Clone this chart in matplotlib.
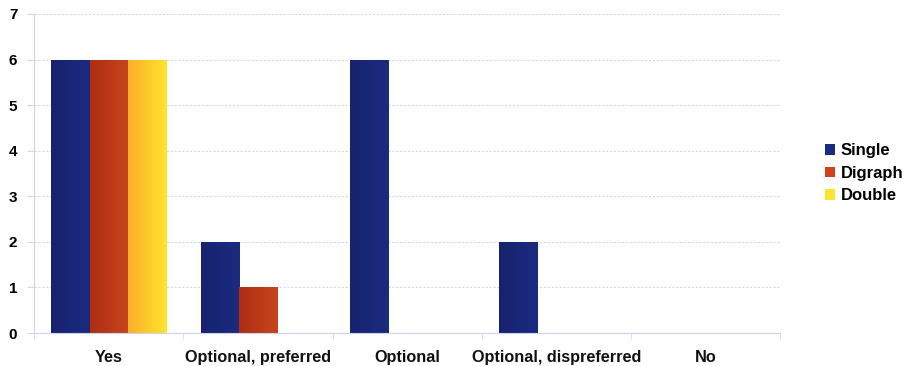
import numpy as np
import matplotlib
matplotlib.use("Agg")
import matplotlib.pyplot as plt
from matplotlib.colors import LinearSegmentedColormap
from matplotlib.patches import Patch

# data
categories = ["Yes", "Optional, preferred", "Optional", "Optional, dispreferred", "No"]
single = [6, 2, 6, 2, 0]
digraph = [6, 1, 0, 0, 0]
double = [6, 0, 0, 0, 0]

series = {"Single": single, "Digraph": digraph, "Double": double}
# left/right colour of each bar gradient
grad = {
    "Single": ("#17236f", "#1b2b80"),
    "Digraph": ("#ae2e14", "#c8441c"),
    "Double": ("#fbb02a", "#fee42c"),
}
legend_col = {"Single": "#1a2b80", "Digraph": "#d2401c", "Double": "#fde52f"}

plt.rcParams["font.family"] = ["Liberation Sans", "DejaVu Sans"]

fig = plt.figure(figsize=(9.08, 3.66), dpi=100)
ax = fig.add_axes([0.0374, 0.090, 0.822, 0.872])

width = 0.255
x = np.arange(len(categories))

# gridlines
for yv in range(0, 8):
    ax.axhline(yv, color="#d6d6f2", lw=0.8, ls=(0, (2, 1.5)), zorder=0)

for i, (name, vals) in enumerate(series.items()):
    cmap = LinearSegmentedColormap.from_list(name, grad[name])
    for xi, v in zip(x, vals):
        if v <= 0:
            continue
        left = xi + (i - 1) * width - width / 2
        bar = ax.bar(left, v, width, align="edge", color="none", zorder=2)[0]
        img = ax.imshow(np.linspace(0, 1, 64).reshape(1, -1), cmap=cmap,
                        extent=[left, left + width, 0, v], aspect="auto", zorder=2)
        img.set_clip_path(bar)

ax.set_aspect("auto")
ax.set_xlim(-0.5, len(categories) - 0.5)
ax.set_ylim(0, 7)

ax.set_yticks(range(0, 8))
ax.set_yticklabels([str(v) for v in range(0, 8)], fontweight="bold", fontsize=11)
ax.set_xticks(x)
ax.set_xticklabels(categories, fontweight="bold", fontsize=11.7, color="#111111")
ax.set_xticks(np.arange(-0.5, len(categories)), minor=True)
ax.tick_params(axis="x", which="major", length=0, pad=12)
ax.tick_params(axis="x", which="minor", length=4, color="#d6d6f2")
ax.tick_params(axis="y", length=5, color="#d6d6f2", pad=7)

for s in ["top", "right"]:
    ax.spines[s].set_visible(False)
for s in ["left", "bottom"]:
    ax.spines[s].set_color("#d0d0f0")
    ax.spines[s].set_linewidth(0.8)

handles = [Patch(facecolor=legend_col[n], edgecolor="none") for n in series]
ax.legend(handles, list(series), loc="center left", bbox_to_anchor=(1.06, 0.50),
          frameon=False, prop={"weight": "bold", "size": 12},
          handlelength=0.6, handleheight=0.6, handletextpad=0.35, labelspacing=0.45,
          borderaxespad=0, borderpad=0)

fig.savefig("out.png", dpi=100)
